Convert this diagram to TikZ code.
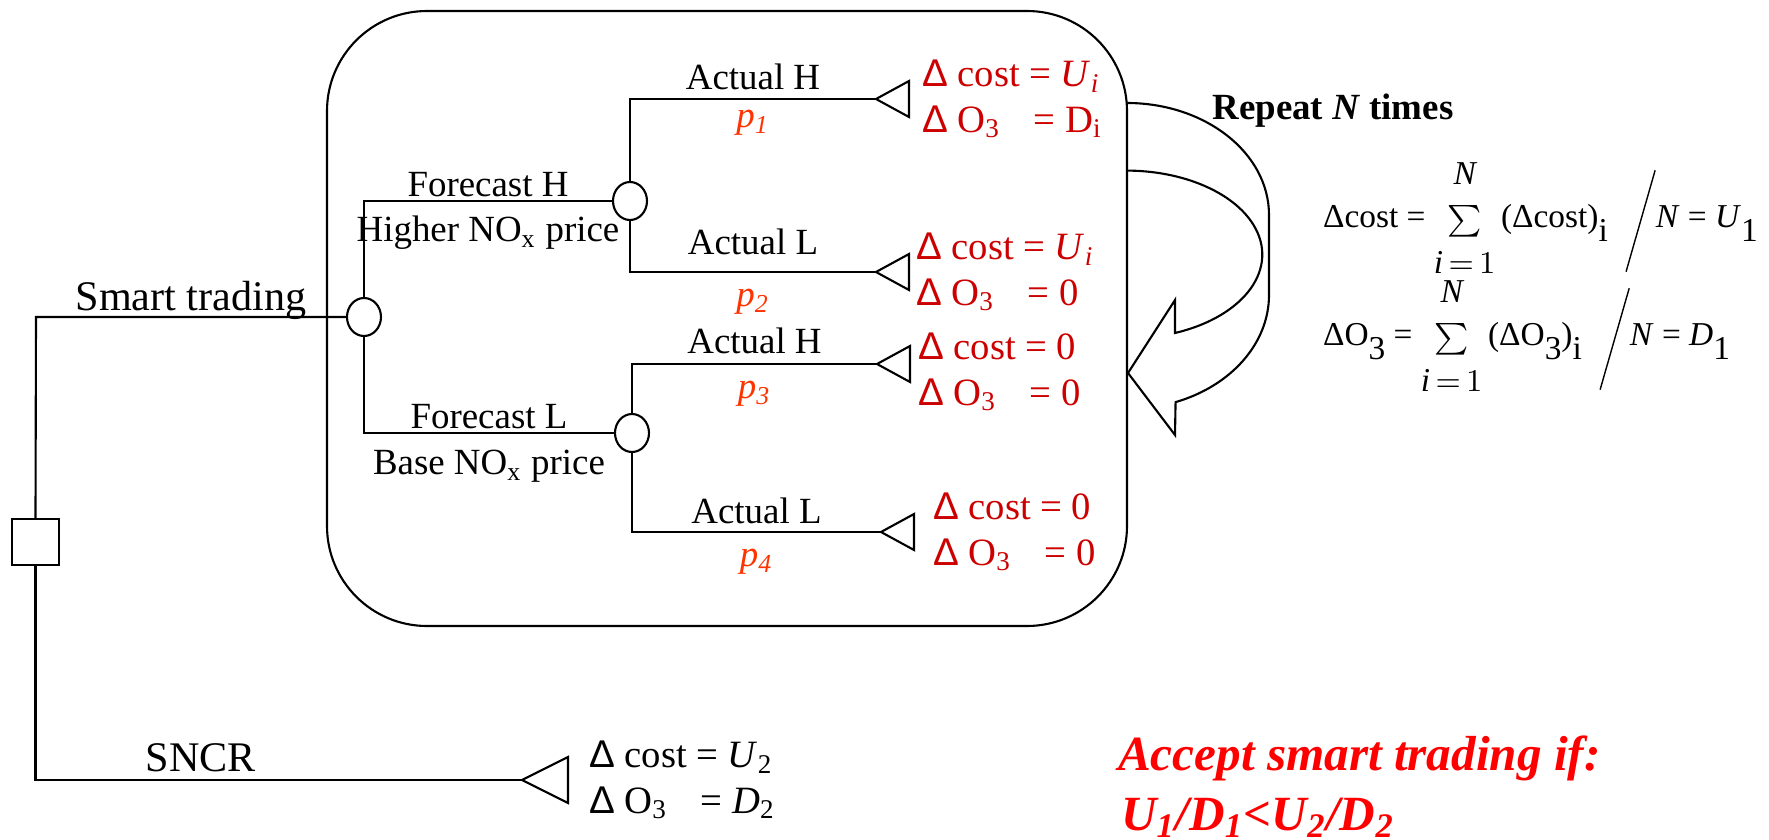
\documentclass[tikz,border=0pt]{standalone}
\usepackage{amsmath}
\usepackage{fontspec}
\setmainfont{Liberation Serif}
\setsansfont{Liberation Sans}
\usetikzlibrary{shapes.geometric,positioning}
\definecolor{outred}{HTML}{CC0000}
\definecolor{probred}{HTML}{FF3300}
\definecolor{acceptred}{HTML}{FF0000}
\renewcommand{\arraystretch}{1.1}
\newcommand{\dsym}{{\sffamily Δ}}
\newcommand{\lowsub}[1]{\raisebox{-0.4em}{#1}}
\newcommand{\overn}{\raisebox{-12.5pt}{\rotatebox{74}{\rule{30pt}{0.4pt}}}}
\newcommand{\sumstack}{$\begin{array}{@{}c@{}}\textit{N}\\ \sum\\ \textit{i}\,{=}\,1\end{array}$}

\begin{document}
\begin{tikzpicture}[line width=0.6pt,
	chance/.style={draw, ellipse, minimum width=0.34cm, minimum height=0.38cm, inner sep=0pt},
	decision/.style={draw, rectangle, minimum width=0.47cm, minimum height=0.46cm, inner sep=0pt},
	branch/.style={font=\fontsize{10.5}{12}\selectfont, inner sep=1pt},
	prob/.style={text=probred, font=\fontsize{10.5}{12}\selectfont\itshape, inner sep=1pt, yshift=-3.5pt},
	payoff/.style={text=outred, align=left, inner sep=0pt, font=\fontsize{11}{13}\selectfont},
	eqn/.style={font=\fontsize{9.5}{11.5}\selectfont, inner sep=0pt, anchor=west}]
	\useasboundingbox (0,0) rectangle (17.69,-8.40);
	
	% simulation box
	\draw[rounded corners=1cm] (3.27,-0.11) rectangle (11.27,-6.26);
	
	% decision and chance nodes
	\node[decision] (dec) at (0.355,-5.42) {};
	\node[chance] (c1) at (3.64,-3.17) {};
	\node[chance] (c2) at (6.30,-2.01) {};
	\node[chance] (c3) at (6.32,-4.33) {};
	\coordinate (root) at (0.36,-3.17);
	\coordinate (t1) at (8.76,-0.99);
	\coordinate (t2) at (8.76,-2.72);
	\coordinate (t3) at (8.77,-3.64);
	\coordinate (t4) at (8.81,-5.32);
	\coordinate (t5) at (5.22,-7.80);
	
	% outcome triangles
	\foreach \tip in {t1,t2,t3,t4}
		\draw (\tip) -- ++(0.33,0.18) -- ++(0,-0.36) -- cycle;
	\draw (t5) -- ++(0.46,0.23) -- ++(0,-0.46) -- cycle;
	
	% tree
	\draw (c1.west) -- node[above, inner sep=0pt, yshift=-1pt, font=\fontsize{12}{14}\selectfont] {Smart trading} (root) -- (dec.north);
	\draw (dec.south) |- node[pos=0.67, above, inner sep=2pt, font=\fontsize{12}{14}\selectfont] {SNCR} (t5);
	\draw (c1.north) |- node[branch, pos=0.75, above] {Forecast H}
		node[branch, pos=0.75, below, yshift=-3pt] {Higher NO\textsubscript{x} price} (c2.west);
	\draw (c1.south) |- node[branch, pos=0.75, above] {Forecast L}
		node[branch, pos=0.75, below, yshift=-3.6pt] {Base NO\textsubscript{x} price} (c3.west);
	\draw (c2.north) |- node[branch, pos=0.75, above, yshift=1.4pt] {Actual H}
		node[prob, pos=0.75, below, yshift=1.5pt] {p\textsubscript{1}} (t1);
	\draw (c2.south) |- node[branch, pos=0.75, above, yshift=3.7pt] {Actual L}
		node[prob, pos=0.75, below] {p\textsubscript{2}} (t2);
	\draw (c3.north) |- node[branch, pos=0.75, above, yshift=1.7pt] {Actual H}
		node[prob, pos=0.75, below] {p\textsubscript{3}} (t3);
	\draw (c3.south) |- node[branch, pos=0.75, above, yshift=1pt] {Actual L}
		node[prob, pos=0.75, below] {p\textsubscript{4}} (t4);
	
	% payoffs
	\node[payoff, right=0.45cm of t1] (pay1) {\dsym\ cost = \textit{U}\textsubscript{\textit{i}}\\ \dsym\ O\textsubscript{3}\hspace{0.6em} = D\textsubscript{i}};
	\node[payoff, right=0.39cm of t2] (pay2) {\dsym\ cost = \textit{U}\textsubscript{\textit{i}}\\ \dsym\ O\textsubscript{3}\hspace{0.6em} = 0};
	\node[payoff, right=0.40cm of t3, yshift=-2.3pt] (pay3) {\dsym\ cost = 0\\ \dsym\ O\textsubscript{3}\hspace{0.6em} = 0};
	\node[payoff, right=0.51cm of t4] (pay4) {\dsym\ cost = 0\\ \dsym\ O\textsubscript{3}\hspace{0.6em} = 0};
	\node[payoff, text=black, right=0.66cm of t5] (pay5) {\dsym\ cost = \textit{U}\textsubscript{2}\\ \dsym\ O\textsubscript{3}\hspace{0.6em} = \textit{D}\textsubscript{2}};
	
	% repeat arrow
	\draw (11.27,-1.03) arc[start angle=90, end angle=0, x radius=1.42, y radius=1.12]
		-- (12.69,-2.95) arc[start angle=0, end angle=-70, x radius=1.42, y radius=1.14]
		-- (11.75,-4.35) -- (11.28,-3.73) -- (11.75,-3.00) -- (11.75,-3.33)
		arc[start angle=-69, end angle=90, x radius=1.36, y radius=0.84];
	\node[font=\fontsize{10.5}{12}\selectfont\bfseries] (rep) at (13.33,-1.11) {Repeat \textit{N} times};
	
	% averages
	\node[eqn] (avgcost) at (13.22,-2.20) {Δcost = \sumstack\,(Δcost)\lowsub{i}\hspace{5pt}\overn\textit{N} = \textit{U}\lowsub{1}};
	\node[eqn] (avgozone) at (13.22,-3.38) {ΔO\lowsub{3} = \sumstack\,(ΔO\lowsub{3})\lowsub{i}\hspace{5pt}\overn\textit{N} = \textit{D}\lowsub{1}};
	
	% rule
	\node[text=acceptred, font=\fontsize{14}{17}\selectfont\bfseries\itshape, anchor=base west, inner sep=0pt] (accept) at (11.17,-7.70) {Accept smart trading if:};
	\node[text=acceptred, font=\fontsize{14}{17}\selectfont\bfseries\itshape, anchor=base west, inner sep=0pt] (rule) at (11.20,-8.30) {U\textsubscript{1}/D\textsubscript{1}<U\textsubscript{2}/D\textsubscript{2}};
\end{tikzpicture}
\end{document}
